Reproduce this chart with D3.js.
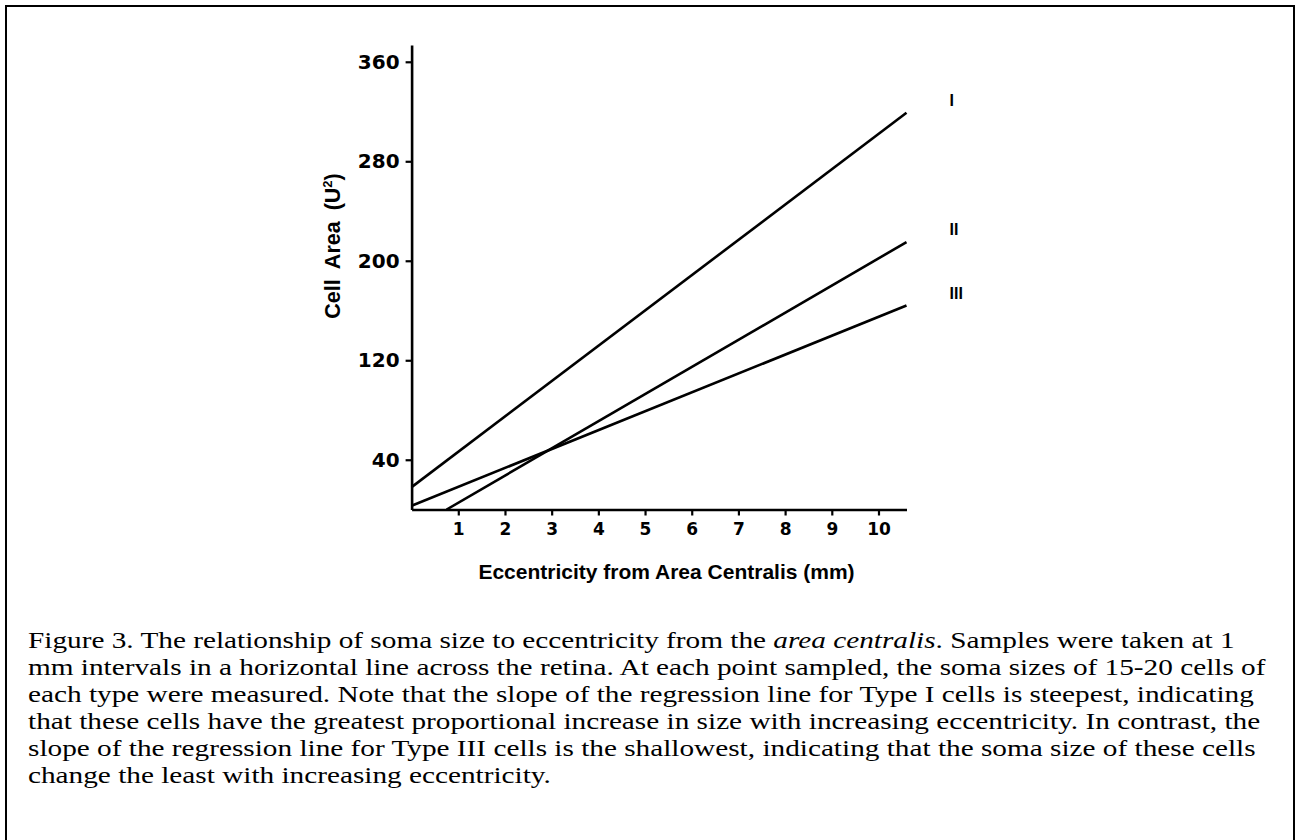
<!DOCTYPE html>
<html><head><meta charset="utf-8">
<script src="https://cdn.jsdelivr.net/npm/d3@7"></script>
<style>
html,body{margin:0;padding:0;background:#fff;}
svg{display:block;}
</style></head>
<body>
<script>
// ---- data ----
const xTicks = [1, 2, 3, 4, 5, 6, 7, 8, 9, 10];
const yTicks = [40, 120, 200, 280, 360];
const seriesNames = ["I", "II", "III"];
const typeIx = [0, 10.6];
const typeIy = [18, 319];
const typeIIx = [0.75, 10.6];
const typeIIy = [0, 215];
const typeIIIx = [0, 10.6];
const typeIIIy = [3, 164];
const xTitle = "Eccentricity from Area Centralis (mm)";
const captionLines = [
  [["Figure 3. The relationship of soma size to eccentricity from the ", false], ["area centralis", true], [". Samples were taken at 1", false]],
  [["mm intervals in a horizontal line across the retina. At each point sampled, the soma sizes of 15-20 cells of", false]],
  [["each type were measured. Note that the slope of the regression line for Type I cells is steepest, indicating", false]],
  [["that these cells have the greatest proportional increase in size with increasing eccentricity. In contrast, the", false]],
  [["slope of the regression line for Type III cells is the shallowest, indicating that the soma size of these cells", false]],
  [["change the least with increasing eccentricity.", false]]
];

const W = 1298, H = 840;
const svg = d3.select("body").append("svg").attr("width", W).attr("height", H);

// frame
svg.append("rect").attr("x", 6).attr("y", 6).attr("width", 1288).attr("height", 850)
  .attr("fill", "none").attr("stroke", "#000").attr("stroke-width", 2);

const x = d3.scaleLinear().domain([0, 10.6]).range([411.6, 906.5]);
const y = d3.scaleLinear().domain([0, 373.5]).range([509.5, 45]);

const tickFont = "'DejaVu Sans', sans-serif";

// y axis
const gy = svg.append("g").attr("transform", `translate(${x(0)},0)`)
  .call(d3.axisLeft(y).tickValues(yTicks).tickSize(6).tickSizeOuter(0).tickPadding(6).tickFormat(d3.format("d")));
gy.select(".domain").attr("stroke-width", 2.6);
gy.selectAll(".tick line").attr("stroke-width", 2.2);
gy.selectAll(".tick text").attr("font-family", tickFont).attr("font-weight", "bold").attr("font-size", 20).attr("fill", "#000");

// x axis
const gx = svg.append("g").attr("transform", `translate(0,${y(0)})`)
  .call(d3.axisBottom(x).tickValues(xTicks).tickSize(6).tickSizeOuter(0).tickPadding(7).tickFormat(d3.format("d")));
gx.select(".domain").attr("stroke-width", 2.6);
gx.selectAll(".tick line").attr("stroke-width", 2.2);
gx.selectAll(".tick text").attr("font-family", tickFont).attr("font-weight", "bold").attr("font-size", 17).attr("fill", "#000");

// axis titles
svg.append("text").attr("x", 666.5).attr("y", 579).attr("text-anchor", "middle")
  .attr("font-family", "'Liberation Sans', Arial, sans-serif").attr("font-weight", "bold").attr("font-size", 21)
  .text(xTitle);

const yt = svg.append("text").attr("transform", "translate(340,246) rotate(-90)").attr("text-anchor", "middle")
  .attr("font-family", "'Liberation Sans', Arial, sans-serif").attr("font-weight", "bold").attr("font-size", 21.5)
  .attr("word-spacing", 5);
yt.append("tspan").text("Cell Area (U");
yt.append("tspan").attr("dy", -8).attr("font-size", 13).text("2");
yt.append("tspan").attr("dy", 8).text(")");

// regression lines
const series = [
  {name: seriesNames[0], xs: typeIx, ys: typeIy},
  {name: seriesNames[1], xs: typeIIx, ys: typeIIy},
  {name: seriesNames[2], xs: typeIIIx, ys: typeIIIy}
];
const line = d3.line().x(d => x(d[0])).y(d => y(d[1]));
series.forEach(s => {
  const pts = s.xs.map((v, i) => [v, s.ys[i]]);
  svg.append("path").attr("d", line(pts)).attr("fill", "none").attr("stroke", "#000").attr("stroke-width", 2.6);
  const last = pts[pts.length - 1];
  svg.append("text").attr("x", x(last[0]) + 43).attr("y", y(last[1]) - 7)
    .attr("font-family", "'Liberation Sans', Arial, sans-serif").attr("font-weight", "bold").attr("font-size", 16)
    .text(s.name);
});

// caption (reference text is horizontally stretched)
const capOuter = svg.append("g").attr("transform", "translate(28,0)");
const cap = capOuter.append("g").attr("font-family", "'Liberation Serif', 'Times New Roman', serif").attr("font-size", 23).attr("fill", "#000");
const capTexts = [];
captionLines.forEach((ln, i) => {
  const t = cap.append("text").attr("x", 0).attr("y", 648 + i * 27);
  ln.forEach(([str, it]) => {
    const sp = t.append("tspan").text(str);
    if (it) sp.attr("font-style", "italic");
  });
  capTexts.push(t);
});
const firstW = capTexts[0].node().getComputedTextLength();
const sx = 1207 / firstW;
cap.attr("transform", `scale(${sx},1)`);
</script>
</body></html>
